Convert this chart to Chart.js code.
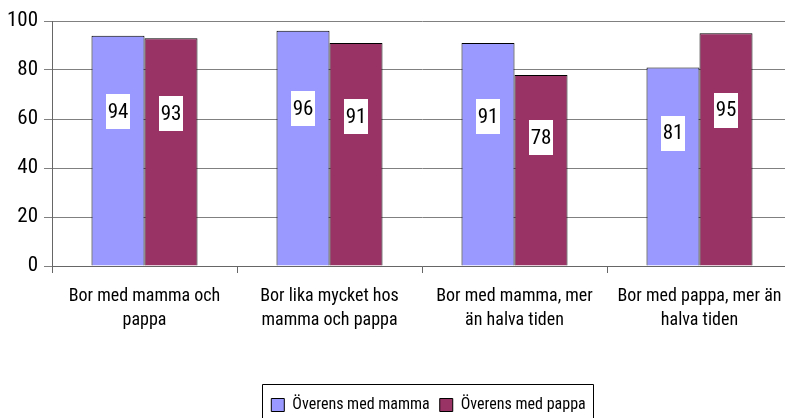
<!DOCTYPE html>
<html>
<head>
<meta charset="utf-8">
<script src="https://cdn.jsdelivr.net/npm/chart.js@4/dist/chart.umd.min.js"></script>
<style>
html,body{margin:0;padding:0;overflow:hidden;background:#fff;}
#wrap{width:857px;height:418px;position:relative;}
</style>
</head>
<body>
<div id="wrap"><canvas id="c" width="857" height="418"></canvas></div>
<script>
const categories = [
  ["Bor med mamma och", "pappa"],
  ["Bor lika mycket hos", "mamma och pappa"],
  ["Bor med mamma, mer", "än halva tiden"],
  ["Bor med pappa, mer än", "halva tiden"]
];
const seriesNames = ["Överens med mamma", "Överens med pappa"];
const mammaValues = [94, 96, 91, 81];
const pappaValues = [93, 91, 78, 95];
const yTicks = [0, 20, 40, 60, 80, 100];

const FONT = "'Roboto Condensed', 'DejaVu Sans Condensed', sans-serif";

const valueLabels = {
  id: 'valueLabels',
  afterDatasetsDraw(chart) {
    const ctx = chart.ctx;
    const y = chart.scales.y;
    ctx.save();
    ctx.font = "21px " + FONT;
    ctx.textAlign = 'center';
    ctx.textBaseline = 'middle';
    chart.data.datasets.forEach((ds, di) => {
      const meta = chart.getDatasetMeta(di);
      meta.data.forEach((bar, i) => {
        const v = ds.data[i];
        const cy = y.getPixelForValue(v * 0.67);
        const w = 24, h = 35;
        ctx.fillStyle = '#fff';
        ctx.fillRect(Math.round(bar.x - w / 2), Math.round(cy - h / 2), w, h);
        ctx.fillStyle = '#000';
        ctx.fillText(String(v), bar.x, cy + 1);
      });
    });
    ctx.restore();
  }
};

const legendBorder = {
  id: 'legendBorder',
  afterDraw(chart) {
    const boxes = chart.legend && chart.legend.legendHitBoxes;
    if (!boxes || !boxes.length) return;
    const first = boxes[0], last = boxes[boxes.length - 1];
    const ctx = chart.ctx;
    ctx.save();
    ctx.strokeStyle = '#000';
    ctx.lineWidth = 1;
    const l = Math.round(first.left - 9) + 0.5;
    const r = Math.round(last.left + last.width + 7) + 0.5;
    const t = Math.round(first.top - 13) + 0.5;
    ctx.beginPath();
    ctx.moveTo(l, 430);
    ctx.lineTo(l, t);
    ctx.lineTo(r, t);
    ctx.lineTo(r, 430);
    ctx.stroke();
    ctx.restore();
  }
};

new Chart(document.getElementById('c'), {
  type: 'bar',
  data: {
    labels: categories,
    datasets: [
      { label: seriesNames[0], data: mammaValues, backgroundColor: '#9999FF', borderColor: '#000', borderWidth: 1 },
      { label: seriesNames[1], data: pappaValues, backgroundColor: '#993366', borderColor: '#000', borderWidth: 1 }
    ]
  },
  options: {
    responsive: false,
    animation: false,
    devicePixelRatio: 1,
    layout: { padding: { left: 0, right: 0, top: 21, bottom: -5 } },
    datasets: { bar: { categoryPercentage: 0.573, barPercentage: 1.0 } },
    scales: {
      x: {
        offset: true,
        grid: { offset: true, drawOnChartArea: false, drawTicks: true, tickLength: 7, color: '#666' },
        border: { color: '#666' },
        ticks: { color: '#000', font: { family: FONT, size: 18, lineHeight: 1.35 }, padding: 11, maxRotation: 0, autoSkip: false },
        afterFit(s) { s.height = 121; }
      },
      y: {
        min: 0, max: 100,
        afterBuildTicks(s) { s.ticks = yTicks.map(v => ({ value: v })); },
        grid: { color: '#808080', tickLength: 8 },
        border: { color: '#666' },
        ticks: { color: '#000', font: { family: FONT, size: 21 }, padding: 6 },
        afterFit(s) { s.width = 52; }
      },
      yRight: {
        position: 'right',
        min: 0, max: 100,
        grid: { display: false, drawOnChartArea: false },
        border: { display: false },
        ticks: { display: false },
        afterFit(s) { s.width = 65; }
      }
    },
    plugins: {
      tooltip: { enabled: false },
      legend: {
        position: 'bottom',
        labels: {
          color: '#000',
          font: { family: FONT, size: 16 },
          boxWidth: 13, boxHeight: 13, padding: 10,
          generateLabels(chart) {
            return chart.data.datasets.map((ds, i) => ({
              text: ds.label, fillStyle: ds.backgroundColor, strokeStyle: '#000', lineWidth: 1, datasetIndex: i, hidden: false
            }));
          }
        }
      }
    }
  },
  plugins: [valueLabels, legendBorder]
});
</script>
</body>
</html>
